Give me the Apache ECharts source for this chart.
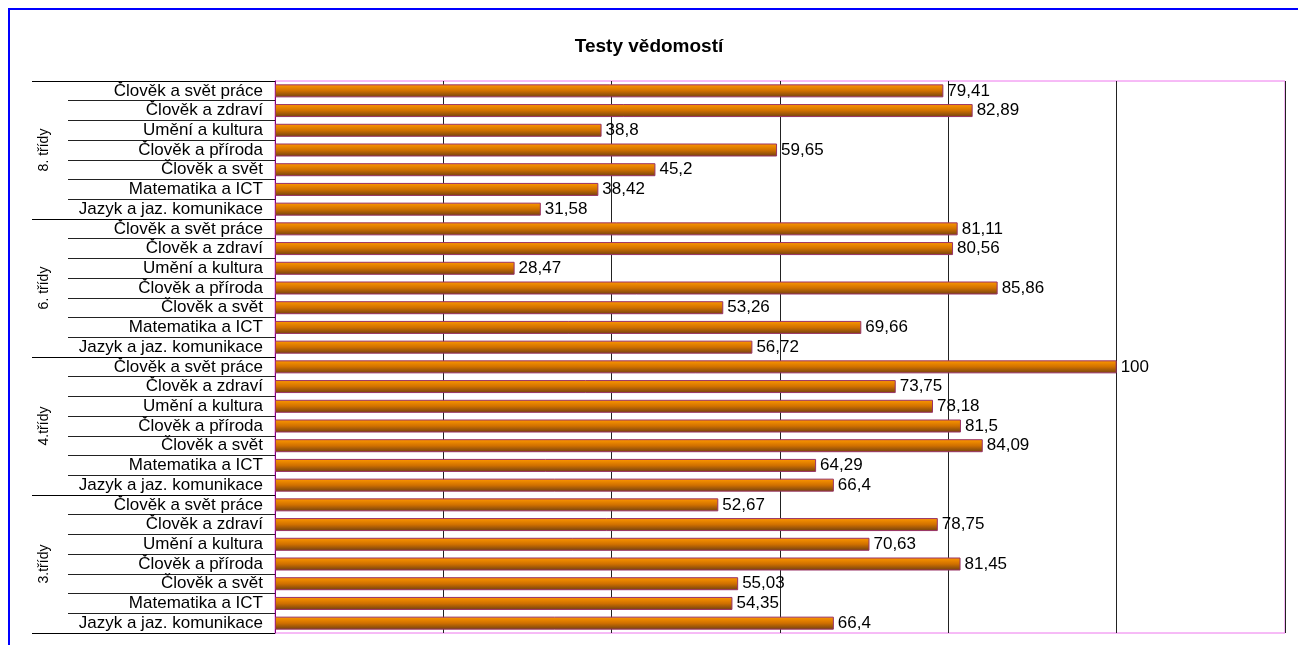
<!DOCTYPE html>
<html>
<head>
<meta charset="utf-8">
<style>
  html, body { margin: 0; padding: 0; background: #fff; }
  #frame { position: absolute; left: 8px; top: 8px; width: 1300px; height: 650px;
           border-top: 2px solid #0000ff; border-left: 2px solid #0000ff; }
  #main { position: absolute; left: 0; top: 0; width: 1298px; height: 645px; }
</style>
<script src="https://cdn.jsdelivr.net/npm/echarts@6/dist/echarts.min.js"></script>
</head>
<body>
<div id="frame"></div>
<div id="main"></div>
<script>
// předměty (zdola nahoru v rámci každé skupiny)
const subjects = [
  'Jazyk a jaz. komunikace',
  'Matematika a ICT',
  'Člověk a svět',
  'Člověk a příroda',
  'Umění a kultura',
  'Člověk a zdraví',
  'Člověk a svět práce'
];
// skupiny zdola nahoru
const groups = ['3.třídy', '4.třídy', '6. třídy', '8. třídy'];

const values3 = [66.4, 54.35, 55.03, 81.45, 70.63, 78.75, 52.67];
const values4 = [66.4, 64.29, 84.09, 81.5, 78.18, 73.75, 100];
const values6 = [56.72, 69.66, 53.26, 85.86, 28.47, 80.56, 81.11];
const values8 = [31.58, 38.42, 45.2, 59.65, 38.8, 82.89, 79.41];

const categories = [];
groups.forEach(() => subjects.forEach((s) => categories.push(s)));
const values = [].concat(values3, values4, values6, values8);

const chart = echarts.init(document.getElementById('main'));
const font = 'Liberation Sans, Arial, sans-serif';

chart.setOption({
  animation: false,
  title: {
    text: 'Testy vědomostí',
    left: 'center',
    top: 32,
    textStyle: { fontFamily: font, fontSize: 19, fontWeight: 'bold', color: '#000' }
  },
  grid: {
    left: 275,
    right: 13,
    top: 81,
    bottom: 12,
    show: true,
    borderColor: '#ee77ee',
    borderWidth: 1
  },
  xAxis: {
    type: 'value',
    min: 0,
    max: 120,
    interval: 20,
    axisLabel: { show: false },
    axisLine: { show: false },
    axisTick: { show: false },
    splitLine: { lineStyle: { color: '#222', width: 1 } }
  },
  yAxis: [{
    type: 'category',
    data: categories,
    position: 'left',
    axisLine: { show: true, lineStyle: { color: '#800080', width: 1 } },
    axisTick: { show: true, interval: 0, length: 207, lineStyle: { color: '#222' } },
    axisLabel: { interval: 0, fontFamily: font, fontSize: 17, color: '#000', margin: 12 }
  }, {
    type: 'category',
    data: groups,
    position: 'left',
    axisLine: { show: false },
    axisTick: { show: true, interval: 0, length: 243, lineStyle: { color: '#000' } },
    axisLabel: { interval: 0, fontFamily: font, fontSize: 14, color: '#000', rotate: 90, margin: 224 }
  }],
  series: [{
    type: 'bar',
    yAxisIndex: 0,
    data: values,
    barWidth: 13,
    itemStyle: {
      color: new echarts.graphic.LinearGradient(0, 0, 0, 1, [
        { offset: 0, color: '#ff9900' },
        { offset: 0.5, color: '#d07000' },
        { offset: 1, color: '#704010' }
      ]),
      borderColor: '#993366',
      borderWidth: 1
    },
    label: {
      show: true,
      position: 'right',
      distance: 4,
      fontFamily: font,
      fontSize: 17,
      color: '#000',
      formatter: (p) => String(p.value).replace('.', ',')
    }
  }]
});
</script>
</body>
</html>
